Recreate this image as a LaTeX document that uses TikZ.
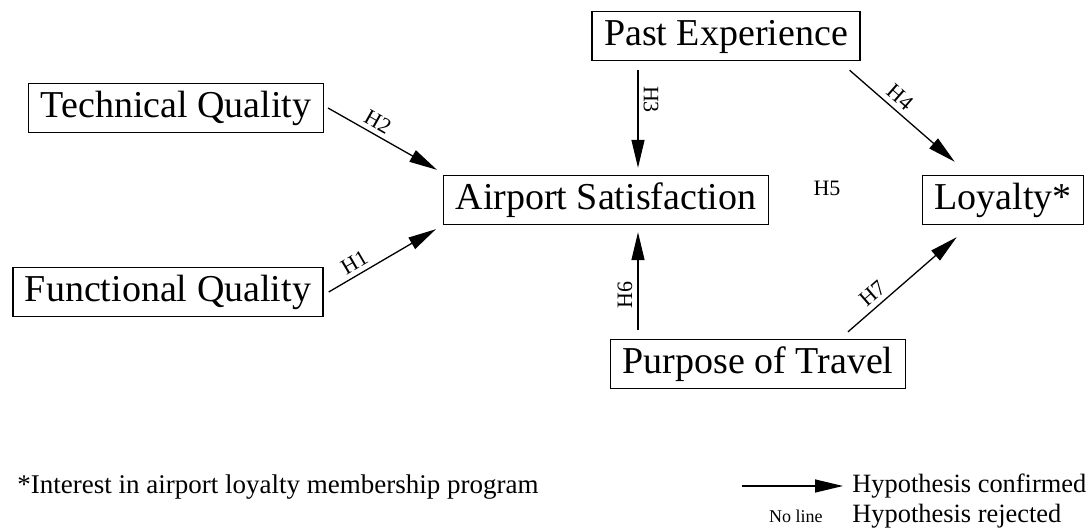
\documentclass[tikz,border=0pt]{standalone}
\usepackage{fontspec}
\setmainfont{Liberation Serif}
\usetikzlibrary{arrows.meta, positioning}

\begin{document}
\begin{tikzpicture}[x=0.5pt, y=-0.5pt,
		box/.style={rectangle, draw, line width=0.7pt, font=\fontsize{19}{22}\selectfont,
			inner xsep=6pt, inner ysep=3pt, text height=14pt, text depth=4.5pt},
		hyp/.style={-{Triangle[length=14pt, width=6.5pt]}, line width=0.65pt},
		lab/.style={font=\fontsize{11}{13}\selectfont, sloped, above, inner sep=2.5pt},
		note/.style={font=\fontsize{13.5}{15}\selectfont, inner sep=2.5pt}]
		\useasboundingbox (0,0) rectangle (1087,529);
		
		\node[box] (tq) at (176,108) {Technical Quality};
		\node[box] (fq) at (168,292) {Functional Quality};
		\node[box] (as) at (606,200) {Airport Satisfaction};
		\node[box] (pe) at (726,36) {Past Experience};
		\node[box] (lo) at (1003,200) {Loyalty*};
		\node[box] (pt) at (758,364) {Purpose of Travel};
		
		\draw[hyp] ([shift={(4,0)}]tq.east) -- ([shift={(-6,-5)}]as.north west) node[lab, pos=0.4] {H2};
		\draw[hyp] ([shift={(5,0)}]fq.east) -- ([shift={(-7,4)}]as.south west) node[lab, pos=0.3] {H1};
		\draw[hyp] ([shift={(-88,9)}]pe.south) -- ([shift={(32,-7)}]as.north) node[lab, pos=0.3] {H3};
		\draw[hyp] ([shift={(-11,9)}]pe.south east) -- ([shift={(33,-13)}]lo.north west) node[lab, pos=0.4] {H4};
		\draw[hyp] ([shift={(-120,-9)}]pt.north) -- ([shift={(32,7)}]as.south) node[lab, pos=0.36] {H6};
		\draw[hyp] ([shift={(90,-7)}]pt.north) -- ([shift={(35,12)}]lo.south west) node[lab, pos=0.3] {H7};
		
		\node[font=\fontsize{11}{13}\selectfont] (h5) at (827,188) {H5};
		
		% footnote and legend
		\node[note, anchor=west] (fn) at (12,487) {*Interest in airport loyalty membership program};
		\node[note, font=\fontsize{13.2}{15}\selectfont, anchor=west] (hc) at (847,486) {Hypothesis confirmed};
		\node[note, font=\fontsize{13.2}{15}\selectfont, anchor=west] (hr) at (847,516) {Hypothesis rejected};
		\node[font=\fontsize{9}{11}\selectfont, inner sep=2.5pt, left=9.5pt of hr] (nl) {No line};
		\coordinate (lg) at (742,486);
		\draw[hyp] (lg) -- ([xshift=-2]hc.west);
		
	\end{tikzpicture}
\end{document}
